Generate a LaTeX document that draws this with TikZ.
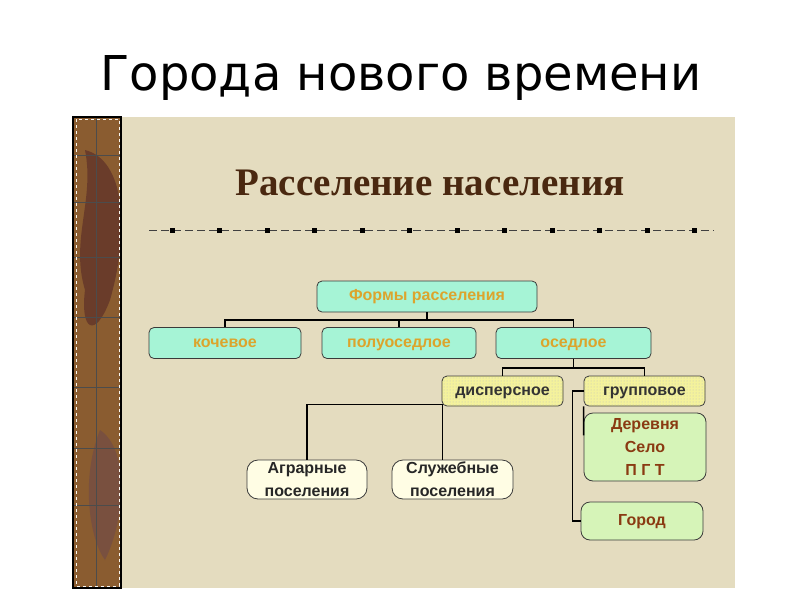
\documentclass[tikz,border=0pt]{standalone}
\usepackage{fontspec}
\setmainfont{Liberation Sans}
\newfontfamily\headfont{Liberation Serif}
\newfontfamily\titlefont{DejaVu Sans}
\usetikzlibrary{positioning,calc,patterns}
\definecolor{slidebg}{HTML}{E4DCBF}
\definecolor{stripbrown}{HTML}{8A5C30}
\definecolor{stripdark}{HTML}{6A3C2A}
\definecolor{headbrown}{HTML}{4A2810}
\definecolor{boxline}{HTML}{3A3A3A}
\definecolor{tealfill}{HTML}{A6F4D6}
\definecolor{goldtext}{HTML}{DCA42C}
\definecolor{yellowfill}{HTML}{F4F29C}
\definecolor{creamfill}{HTML}{FFFDE4}
\definecolor{greenfill}{HTML}{D6F4B8}
\definecolor{redbrown}{HTML}{8A3A12}
\tikzset{
   line/.style      = {-, line width=1.6pt, black},
   box/.style       = {draw=boxline, line width=0.8pt, rounded corners=5pt, inner sep=0pt,
                       font=\bfseries\fontsize{16}{23}\selectfont, align=center},
   oneline/.style   = {text height=11pt, text depth=3pt},
   tealbox/.style   = {box, oneline, fill=tealfill, text=goldtext, minimum height=31pt},
   yellowbox/.style = {box, oneline, fill=yellowfill, text=black!80,
                       minimum width=121pt, minimum height=30pt,
                       postaction={pattern=dots, pattern color=black!25}},
   creambox/.style  = {box, fill=creamfill, text=black!85, rounded corners=11pt,
                       minimum width=121pt, minimum height=39pt},
   greenbox/.style  = {box, fill=greenfill, text=redbrown, rounded corners=9pt,
                       minimum width=122pt},
}
\begin{document}
\begin{tikzpicture}[x=1pt,y=-1pt]
   \useasboundingbox (0,0) rectangle (800,600);
   \fill[white] (0,0) rectangle (800,600);

   % slide title
   \node[font=\titlefont\fontsize{48}{54}\selectfont] (title) at (401,78) {Города нового времени};

   % slide panel and left strip
   \fill[slidebg] (121,117) rectangle (735,588);
   \fill[stripbrown] (73,117) rectangle (121,588);
   \begin{scope}
      \clip (73,117) rectangle (121,588);
      \fill[stripdark] (85,150) .. controls (125,160) and (130,230) .. (110,300)
                       .. controls (95,340) and (80,330) .. (85,290)
                       .. controls (70,240) and (95,200) .. (85,150);
      \fill[stripdark!90] (100,430) .. controls (130,450) and (125,520) .. (105,560)
                          .. controls (90,540) and (80,480) .. (100,430);
      \foreach \y in {155,202,257,317,387,448,505}
         \draw[black!70, line width=0.6pt] (73,\y) -- (121,\y);
      \draw[black!70, line width=0.6pt] (96,117) -- (96,588);
   \end{scope}
   \draw[white!80!slidebg, line width=0.8pt, dashed] (76,119) rectangle (119,586);
   \draw[black, line width=1.2pt] (73,117) rectangle (121,588);

   % heading
   \node[font=\headfont\bfseries\fontsize{39}{44}\selectfont, text=headbrown] (heading) at (430,183) {Расселение населения};

   % separator
   \draw[black!75, line width=1pt, dash pattern=on 8pt off 4pt] (149,230) -- (714,230);
   \foreach \i in {0,...,11}
      \fill[black] ({172+47.5*\i-2.5},227.5) rectangle ++(5,5);

   % boxes
   \node[tealbox, minimum width=220pt] (forms) at (427,296.5) {Формы расселения};
   \node[tealbox, minimum width=152pt] (nomad) at (225,343) {кочевое};
   \node[tealbox, minimum width=154pt] (semi) at (399,343) {полуоседлое};
   \node[tealbox, minimum width=155pt] (settled) at (573.5,343) {оседлое};

   \node[yellowbox] (dispersed) at (502.5,391) {дисперсное};
   \node[yellowbox] (group) at (644.5,391) {групповое};

   \node[creambox, minimum width=120pt] (agrar) at (307,479.5) {Аграрные\\поселения};
   \node[creambox] (service) at (452.5,479.5) {Служебные\\поселения};

   \node[greenbox, minimum height=68pt] (village) at (645,447) {Деревня\\Село\\П Г Т};
   \node[greenbox, oneline, minimum height=38pt] (city) at (642,521) {Город};

   % connectors
   \coordinate (bus1) at ($(forms.south)+(0,7.5)$);
   \coordinate (bus2) at ($(settled.south)+(0,9)$);
   \coordinate (dsw) at ($(dispersed.south west)+(1,-2)$);
   \coordinate (gjoin) at ($(group.west)+(-11,0)$);

   \draw[line] (forms.south) -- (bus1);
   \draw[line] (nomad.north) |- (bus1) -| (settled.north);
   \draw[line] (semi.north) -- (semi.north |- bus1);

   \draw[line] (settled.south) -- (bus2);
   \draw[line] (dispersed.north) |- (bus2) -| (group.north);

   \draw[line] (agrar.north) |- (dsw);
   \draw[line] (dsw) -- (dsw |- service.north);

   \draw[line] (group.west) -- (gjoin) |- (city.west);
   \draw[line] (group.south west) -- ($(village.north west)!0.33!(village.south west)$);
\end{tikzpicture}
\end{document}
